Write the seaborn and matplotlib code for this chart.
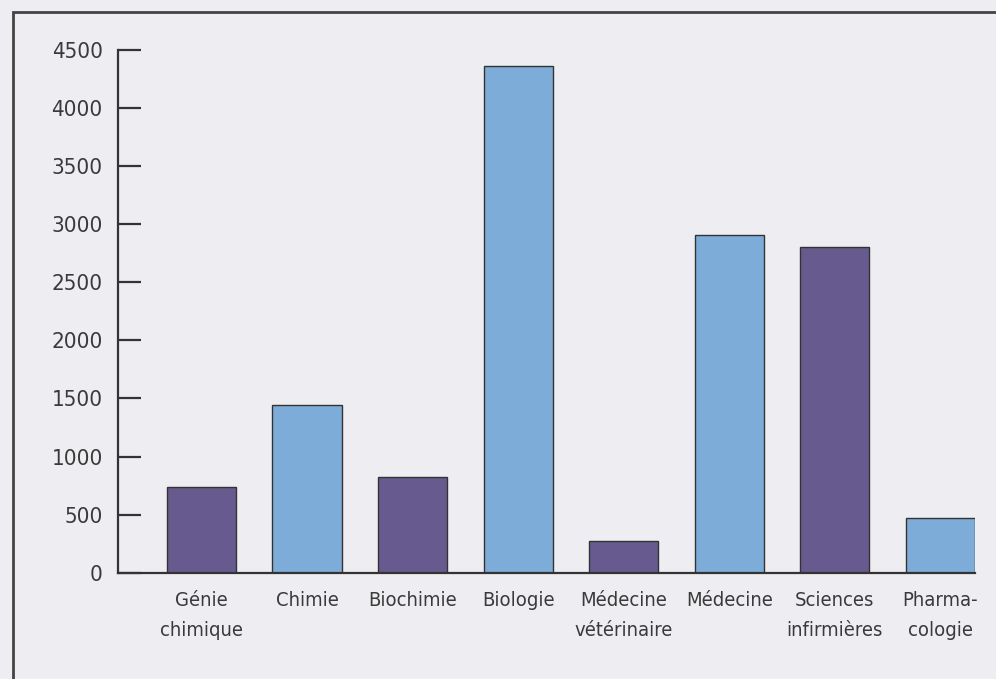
import matplotlib
matplotlib.use("Agg")
import matplotlib.pyplot as plt
import seaborn as sns
import pandas as pd
from matplotlib.patches import Rectangle

categories = ["Génie\nchimique", "Chimie", "Biochimie", "Biologie",
              "Médecine\nvétérinaire", "Médecine", "Sciences\ninfirmières", "Pharma-\ncologie"]
values = [740, 1440, 825, 4360, 275, 2905, 2800, 475]
yticks = [0, 500, 1000, 1500, 2000, 2500, 3000, 3500, 4000, 4500]

purple = "#665a8e"
blue = "#7eacd8"
colors = [purple, blue, purple, blue, purple, blue, purple, blue]

sns.set_theme(style="white")
plt.rcParams['font.family'] = ['DejaVu Sans']
plt.rcParams['font.stretch'] = 'condensed'

bg = "#eeedf1"
fig = plt.figure(figsize=(9.96, 6.79), dpi=100, facecolor=bg)
ax = fig.add_axes([118/996, 1 - 572.7/679, (975-118)/996, (572.7-50)/679])
ax.set_facecolor(bg)

df = pd.DataFrame({"cat": categories, "val": values})
sns.barplot(data=df, x="cat", y="val", hue="cat", palette=colors, legend=False,
            saturation=1, width=0.655, edgecolor="#333333", linewidth=1.0, ax=ax)

ax.set_xlim(-0.79, 7.327)
ax.set_ylim(0, 4500)
ax.set_yticks(yticks)
ax.set_yticklabels([str(t) for t in yticks])
ax.set_xlabel("")
ax.set_ylabel("")

for s in ["top", "right"]:
    ax.spines[s].set_visible(False)
for s in ["left", "bottom"]:
    ax.spines[s].set_color("#333333")
    ax.spines[s].set_linewidth(1.6)

txt = "#3a3a3a"
ax.tick_params(axis="y", direction="in", length=16.5, width=1.6, color="#333333",
               pad=11, labelsize=16, labelcolor=txt, left=True)
ax.tick_params(axis="x", length=0, pad=13, labelsize=14.5, labelcolor=txt)
for lab in ax.get_xticklabels():
    lab.set_linespacing(1.75)

fig.patches.append(Rectangle((13/996, -0.1), 1.2, 1 - 12/679 + 0.1, transform=fig.transFigure,
                             fill=False, edgecolor="#444444", linewidth=2.0, zorder=0))

fig.savefig("out.png", dpi=100, facecolor=bg)
